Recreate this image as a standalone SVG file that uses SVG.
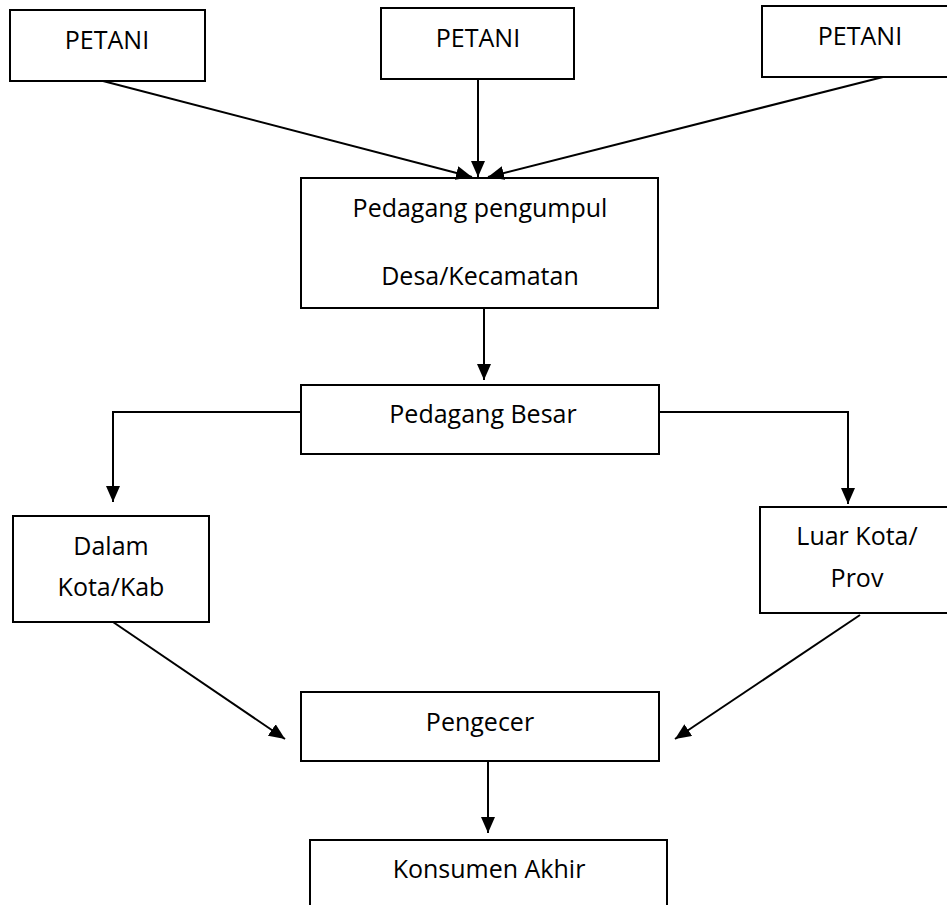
<svg xmlns="http://www.w3.org/2000/svg" width="947" height="905" viewBox="0 0 947 905">
<style>
.box{fill:#fff;stroke:#000;stroke-width:2}
.t{font-family:"Open Sans","Liberation Sans",sans-serif;font-size:25px;fill:#000;text-anchor:middle}
.c{fill:none;stroke:#000;stroke-width:2}
</style>
<defs>
<marker id="ah" markerUnits="userSpaceOnUse" markerWidth="16" markerHeight="14" viewBox="0 0 16 14" refX="16" refY="7" orient="auto">
<path d="M0,0 L16,7 L0,14 z" fill="#000"/>
</marker>
</defs>
<rect width="947" height="905" fill="#fff"/>
<g id="petani1"><rect class="box" x="10" y="10" width="195" height="71"/><text class="t" x="107" y="49">PETANI</text></g>
<g id="petani2"><rect class="box" x="381" y="8" width="193" height="71"/><text class="t" x="478" y="47">PETANI</text></g>
<g id="petani3"><rect class="box" x="762" y="6" width="195" height="71"/><text class="t" x="860" y="45">PETANI</text></g>
<g id="pengumpul"><rect class="box" x="301" y="178" width="357" height="130"/><text class="t" x="480" y="217">Pedagang pengumpul</text><text class="t" x="480" y="285">Desa/Kecamatan</text></g>
<g id="besar"><rect class="box" x="301" y="385" width="358" height="69"/><text class="t" x="483" y="423">Pedagang Besar</text></g>
<g id="dalam"><rect class="box" x="13" y="516" width="196" height="106"/><text class="t" x="111" y="555">Dalam</text><text class="t" x="111" y="596">Kota/Kab</text></g>
<g id="luar"><rect class="box" x="760" y="507" width="197" height="106"/><text class="t" x="857" y="545">Luar Kota/</text><text class="t" x="857" y="587">Prov</text></g>
<g id="pengecer"><rect class="box" x="301" y="692" width="358" height="69"/><text class="t" x="480" y="731">Pengecer</text></g>
<g id="konsumen"><rect class="box" x="310" y="840" width="357" height="80"/><text class="t" x="489" y="878">Konsumen Akhir</text></g>
<g id="connectors">
<path class="c" d="M103,81 L472,177" marker-end="url(#ah)"/>
<path class="c" d="M478,79 L478,177" marker-end="url(#ah)"/>
<path class="c" d="M883,77 L488,177" marker-end="url(#ah)"/>
<path class="c" d="M484,308 L484,380" marker-end="url(#ah)"/>
<path class="c" d="M301,412 L113,412 L113,502" marker-end="url(#ah)"/>
<path class="c" d="M659,412 L848,412 L848,504" marker-end="url(#ah)"/>
<path class="c" d="M113,622 L285,739" marker-end="url(#ah)"/>
<path class="c" d="M860,615 L675,739" marker-end="url(#ah)"/>
<path class="c" d="M488,761 L488,833" marker-end="url(#ah)"/>
</g>
</svg>
